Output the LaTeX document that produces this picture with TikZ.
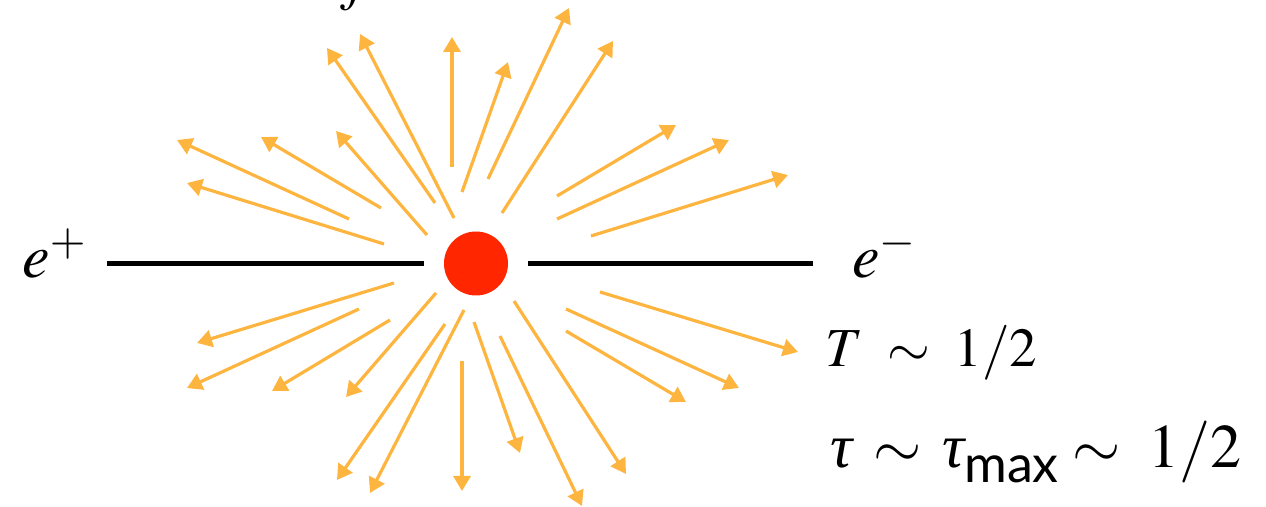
\documentclass[tikz,border=0pt]{standalone}
\usepackage{mathptmx}
\usepackage[no-math]{fontspec}
\newfontfamily\gillsans{Lato}
\newfontfamily\timesit{Liberation Serif Italic}
\usetikzlibrary{arrows.meta}
\definecolor{rayorange}{RGB}{253,181,64}
\definecolor{dotred}{RGB}{255,38,0}
\newcommand{\itau}{\mbox{\timesit τ}}
\begin{document}
\begin{tikzpicture}[
  x=0.5pt,y=-0.5pt,
  ray/.style={rayorange,line width=1.6pt,-{Triangle[length=7.5pt,width=8.5pt]}},
  beam/.style={black,line width=2.5pt},
  lbl/.style={inner sep=0pt,anchor=base west},
  big/.style={font=\fontsize{31}{36}\selectfont}]
\useasboundingbox (0,0) rectangle (1266,507);
\node[circle,fill=dotred,minimum size=32pt,inner sep=0pt] (dot) at (476,263.5) {};
\node[lbl,big] (ep) at (22,278) {$e^{+}$};
\node[lbl,big] (em) at (852,278) {$e^{-}$};
\node[lbl,font=\fontsize{27.5}{32}\selectfont] (temp) at (825,367) {$T\;\sim\;1/2$};
\node[lbl,big] (tau) at (830,468) {$\itau\,\sim\,\itau$\lower7.5pt\hbox{\gillsans\fontsize{26}{30}\selectfont max}$\;\sim\;1/2$};
\node[lbl,font=\fontsize{30}{34}\selectfont] (top) at (340,-1) {$f$};
\draw[beam] ([xshift=10pt]ep.east |- dot.center) -- ([xshift=-10pt]dot.west);
\draw[beam] ([xshift=10pt]dot.east) -- ([xshift=-19.5pt]em.west |- dot.center);
\foreach \n/\tx/\ty/\hx/\hy in {
  a/349/219/177/140, b/384/244/187/183, c/381/208/261/137, d/427/235/336/131,
  e/435/203/327/48, f/454/218/360/34, g/452/167/452/37, h/462/192/508/62,
  i/488/179/569/8, j/502/213/613/41, k/557/196/676/125, l/557/219/729/140,
  m/591/236/788/175, n/394/283/197/343, o/359/309/187/388, p/390/320/272/391,
  q/436/293/346/397, r/445/324/337/480, s/464/310/370/493, t/462/361/462/491,
  u/474/322/520/453, v/500/336/582/506, w/514/301/626/474, x/600/292/798/352,
  y/566/309/739/388, z/566/331/686/402}{
  \coordinate (tail-\n) at (\tx,\ty);
  \coordinate (tip-\n) at (\hx,\hy);
  \draw[ray] (tail-\n) -- (tip-\n);
}
\end{tikzpicture}
\end{document}
